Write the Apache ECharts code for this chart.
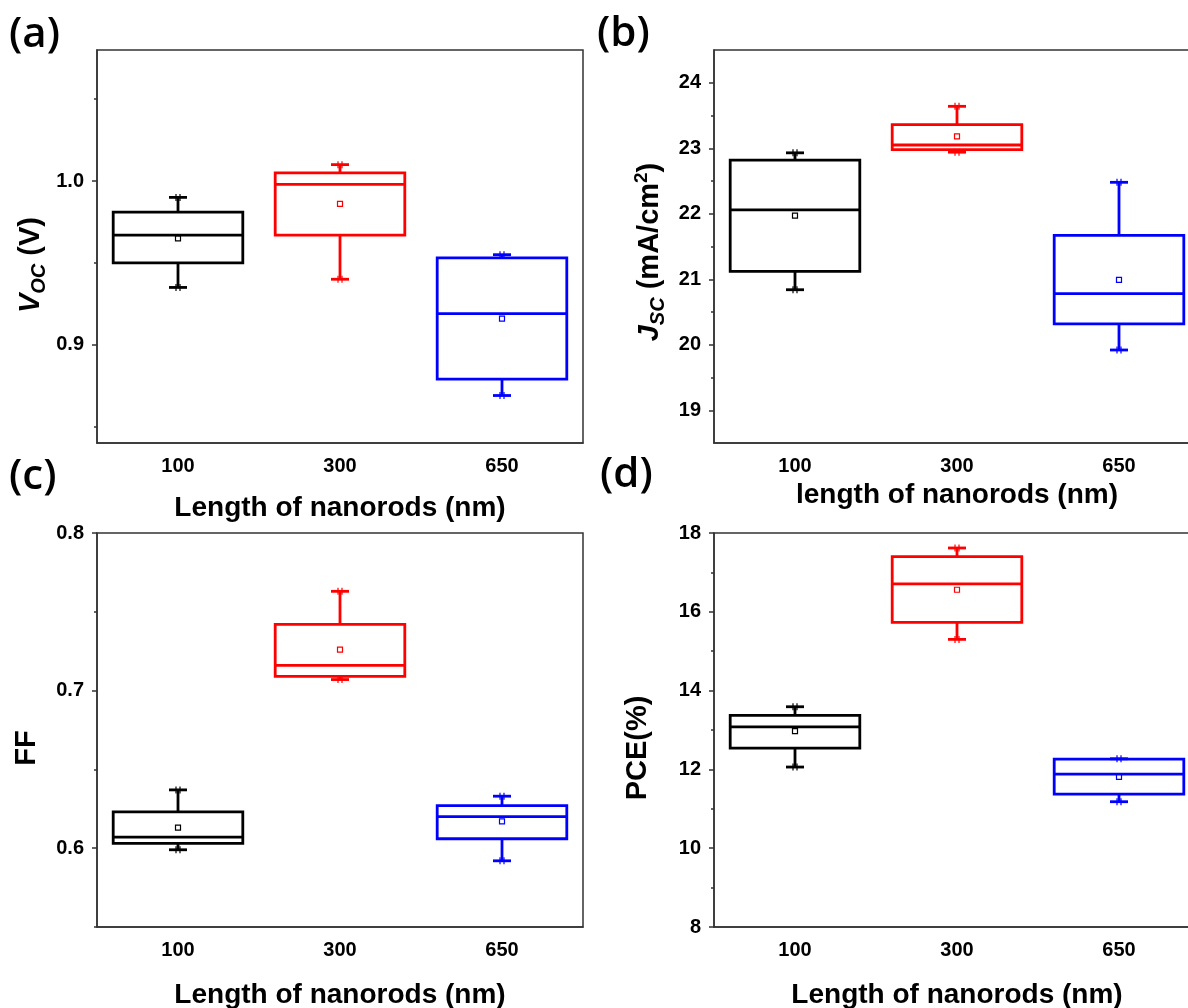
<!DOCTYPE html>
<html>
<head>
<meta charset="utf-8">
<script src="https://cdn.jsdelivr.net/npm/echarts@6/dist/echarts.min.js"></script>
<style>
  html, body { margin: 0; padding: 0; background: #fff; }
  #chart { width: 1188px; height: 1008px; }
</style>
</head>
<body>
<div id="chart"></div>
<script>
// Nanorod lengths (nm) on the category axis
const categories = ['100', '300', '650'];
const boxColors = ['#000000', '#ff0000', '#0000ff'];

// Box statistics per length: [min, Q1, median, Q3, max, mean]
const vocStats = [
  [0.935, 0.950, 0.967, 0.981, 0.990, 0.965],
  [0.940, 0.967, 0.998, 1.005, 1.010, 0.986],
  [0.869, 0.879, 0.919, 0.953, 0.955, 0.916]
];
const jscStats = [
  [20.84, 21.12, 22.06, 22.82, 22.93, 21.97],
  [22.94, 22.98, 23.05, 23.36, 23.64, 23.18],
  [19.92, 20.32, 20.78, 21.67, 22.48, 20.99]
];
const ffStats = [
  [0.599, 0.603, 0.607, 0.623, 0.637, 0.613],
  [0.707, 0.709, 0.716, 0.742, 0.763, 0.726],
  [0.592, 0.606, 0.620, 0.627, 0.633, 0.617]
];
const pceStats = [
  [12.06, 12.54, 13.08, 13.37, 13.59, 12.97],
  [15.30, 15.73, 16.71, 17.40, 17.62, 16.56],
  [11.18, 11.37, 11.88, 12.26, 12.27, 11.81]
];

// Labelled (major) and unlabelled (minor) y ticks
const vocMajor = [0.9, 1.0];
const vocMinor = [0.85, 0.95, 1.05];
const jscMajor = [19, 20, 21, 22, 23, 24];
const jscMinor = [19.5, 20.5, 21.5, 22.5, 23.5];
const ffMajor = [0.6, 0.7, 0.8];
const ffMinor = [0.55, 0.65, 0.75];
const pceMajor = [8, 10, 12, 14, 16, 18];
const pceMinor = [9, 11, 13, 15, 17];

const FONT = '"Liberation Sans", Arial, sans-serif';
const AXIS = '#333';

const panels = [
  { stats: vocStats, min: 0.84, max: 1.08, major: vocMajor, minor: vocMinor,
    fmt: v => v.toFixed(1), xName: 'Length of nanorods (nm)', xGap: 51,
    grid: { left: 97, top: 50, width: 486, height: 393 } },
  { stats: jscStats, min: 18.5, max: 24.5, major: jscMajor, minor: jscMinor,
    fmt: v => String(v), xName: 'length of nanorods (nm)', xGap: 38,
    grid: { left: 714, top: 50, width: 486, height: 393 } },
  { stats: ffStats, min: 0.55, max: 0.8, major: ffMajor, minor: ffMinor,
    fmt: v => v.toFixed(1), xName: 'Length of nanorods (nm)', xGap: 54,
    grid: { left: 97, top: 533, width: 486, height: 394 } },
  { stats: pceStats, min: 8, max: 18, major: pceMajor, minor: pceMinor,
    fmt: v => String(v), xName: 'Length of nanorods (nm)', xGap: 54,
    grid: { left: 714, top: 533, width: 486, height: 394 } }
];

// Origin-style box: 80% wide box, narrow whisker caps, min/max marks, hollow mean square
function renderBox(params, api) {
  const i = api.value(0);
  const pLow = api.coord([i, api.value(1)]);
  const pQ1 = api.coord([i, api.value(2)]);
  const pMed = api.coord([i, api.value(3)]);
  const pQ3 = api.coord([i, api.value(4)]);
  const pHigh = api.coord([i, api.value(5)]);
  const pMean = api.coord([i, api.value(6)]);
  const cx = pMed[0];
  const half = api.size([1, 0])[0] * 0.4;
  const cap = 9;
  const lw = 2.8;
  const color = boxColors[i];
  const seg = (x1, y1, x2, y2, w) => ({
    type: 'line', shape: { x1, y1, x2, y2 }, style: { stroke: color, lineWidth: w }
  });
  const children = [
    { type: 'rect', shape: { x: cx - half, y: pQ3[1], width: 2 * half, height: pQ1[1] - pQ3[1] },
      style: { fill: 'none', stroke: color, lineWidth: lw } },
    seg(cx - half, pMed[1], cx + half, pMed[1], lw),
    seg(cx, pQ3[1], cx, pHigh[1], lw),
    seg(cx, pQ1[1], cx, pLow[1], lw),
    seg(cx - cap, pHigh[1], cx + cap, pHigh[1], lw),
    seg(cx - cap, pLow[1], cx + cap, pLow[1], lw)
  ];
  [pHigh, pLow].forEach(p => {
    children.push(seg(cx - 2, p[1] - 3.5, cx - 2, p[1] + 3.5, 1.2));
    children.push(seg(cx + 2, p[1] - 3.5, cx + 2, p[1] + 3.5, 1.2));
  });
  children.push({ type: 'rect', shape: { x: cx - 2.5, y: pMean[1] - 2.5, width: 5, height: 5 },
    style: { fill: 'none', stroke: color, lineWidth: 1.2 } });
  return { type: 'group', children };
}

const grid = [], xAxis = [], yAxis = [], series = [];
panels.forEach((p, k) => {
  grid.push(Object.assign({ show: true, borderColor: AXIS, borderWidth: 1.5,
    backgroundColor: 'transparent', outerBoundsMode: 'none', containLabel: false }, p.grid));
  xAxis.push({
    gridIndex: k, type: 'category', data: categories, boundaryGap: true,
    axisLine: { lineStyle: { color: AXIS, width: 1.5 } },
    axisTick: { alignWithLabel: true, length: 6, lineStyle: { color: AXIS, width: 1.5 } },
    axisLabel: { margin: 13, fontSize: 20, fontWeight: 'bold', color: '#000', fontFamily: FONT },
    splitLine: { show: false },
    name: p.xName, nameLocation: 'middle', nameGap: p.xGap,
    nameTextStyle: { fontSize: 28, fontWeight: 'bold', color: '#000', fontFamily: FONT }
  });
  yAxis.push({
    gridIndex: k, type: 'value', min: p.min, max: p.max, position: 'left',
    axisLine: { show: true, lineStyle: { color: AXIS, width: 1.5 } },
    axisTick: { show: true, customValues: p.major, length: 5, lineStyle: { color: AXIS, width: 1.5 } },
    axisLabel: { customValues: p.major, formatter: p.fmt, margin: 13, fontSize: 20,
      fontWeight: 'bold', color: '#000', fontFamily: FONT },
    splitLine: { show: false }
  });
  yAxis.push({
    gridIndex: k, type: 'value', min: p.min, max: p.max, position: 'left', offset: 0,
    axisLine: { show: false },
    axisTick: { show: true, customValues: p.minor, length: 3, lineStyle: { color: AXIS, width: 1.5 } },
    axisLabel: { show: false },
    splitLine: { show: false }
  });
  series.push({
    type: 'custom', xAxisIndex: k, yAxisIndex: 2 * k,
    renderItem: renderBox,
    encode: { x: 0, y: [1, 2, 3, 4, 5, 6] },
    data: p.stats.map((s, i) => [i].concat(s)),
    silent: true
  });
});

const titleFont = { fontFamily: FONT, fontWeight: 'bold', fill: '#000' };
const main = (extra) => Object.assign({ fontSize: 29, lineHeight: 36 }, titleFont, extra || {});
const sub = { fontSize: 20, lineHeight: 18, verticalAlign: 'bottom', fontStyle: 'italic', fontFamily: FONT, fontWeight: 'bold', fill: '#000' };
const sup = { fontSize: 19, lineHeight: 18, verticalAlign: 'top', fontFamily: FONT, fontWeight: 'bold', fill: '#000' };

function yTitle(x, y, text, rich) {
  return { type: 'text', x, y, rotation: Math.PI / 2,
    style: { text, rich, align: 'center', verticalAlign: 'middle' } };
}
function letter(x, y, text) {
  return { type: 'text', x, y,
    style: { text, fontFamily: '"Open Sans", "Noto Sans", sans-serif', fontWeight: 600, fontSize: 42,
      fill: '#000', align: 'left', verticalAlign: 'middle' } };
}

const graphic = [
  letter(9, 35, '(a)'),
  letter(597, 34, '(b)'),
  letter(9, 477, '(c)'),
  letter(600, 475, '(d)'),
  yTitle(31, 265, '{v|V}{s|OC}{n| (V)}', { v: main({ fontStyle: 'italic' }), s: sub, n: main() }),
  yTitle(650, 252, '{v|J}{s|SC}{n| (mA/cm}{p|2}{n|)}', { v: main({ fontStyle: 'italic' }), s: sub, n: main(), p: sup }),
  yTitle(27, 748, '{n|FF}', { n: main() }),
  yTitle(638, 748, '{n|PCE(%)}', { n: main() })
];

const chart = echarts.init(document.getElementById('chart'), null, { renderer: 'canvas' });
chart.setOption({
  backgroundColor: '#ffffff',
  animation: false,
  grid, xAxis, yAxis, series, graphic
});
</script>
</body>
</html>
